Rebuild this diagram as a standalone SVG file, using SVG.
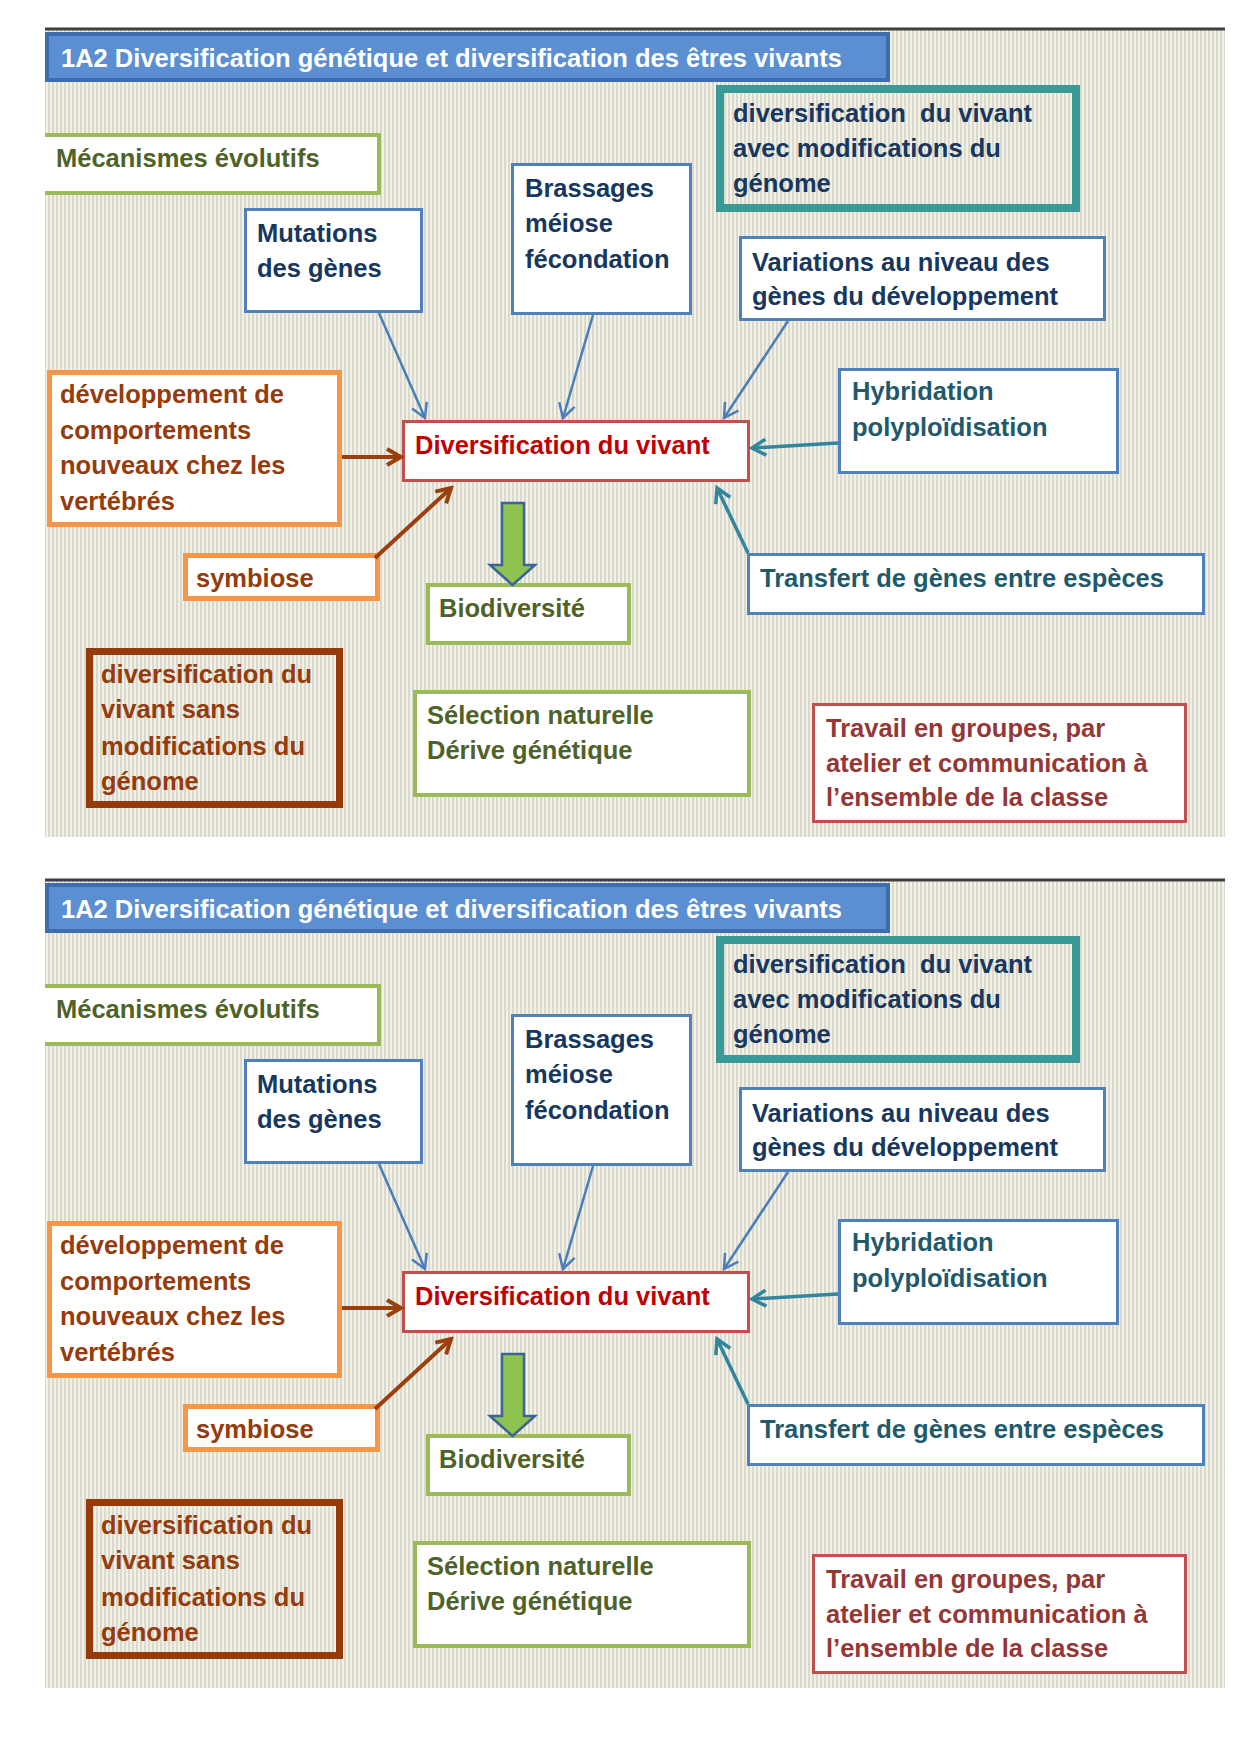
<svg xmlns="http://www.w3.org/2000/svg" width="1240" height="1754" viewBox="0 0 1240 1754">
<defs>
<pattern id="bg" width="4" height="4" patternUnits="userSpaceOnUse">
<rect width="4" height="4" fill="#f2f1e2"/>
<rect width="2" height="4" fill="#d9d9d2"/>
</pattern>
<marker id="ahBlue" markerUnits="userSpaceOnUse" markerWidth="22" markerHeight="22" viewBox="0 0 22 22" refX="19" refY="11" orient="auto">
<path d="M5,3 L19,11 L5,19" fill="none" stroke="#4a7ebb" stroke-width="2.5"/>
</marker>
<marker id="ahTeal" markerUnits="userSpaceOnUse" markerWidth="22" markerHeight="22" viewBox="0 0 22 22" refX="19" refY="11" orient="auto">
<path d="M5,3 L19,11 L5,19" fill="none" stroke="#31859c" stroke-width="3.5"/>
</marker>
<marker id="ahBrown" markerUnits="userSpaceOnUse" markerWidth="22" markerHeight="22" viewBox="0 0 22 22" refX="19" refY="11" orient="auto">
<path d="M5,3 L19,11 L5,19" fill="none" stroke="#9c3f0e" stroke-width="4"/>
</marker>
</defs>
<style>
text{font-family:"Liberation Sans",Arial,sans-serif;font-weight:bold;font-size:25.5px}
.title{fill:#ffffff;font-size:26px}
.green{fill:#4f6228}
.navy{fill:#17375e}
.tealt{fill:#1f5a6b}
.brownt{fill:#953b0c}
.redt{fill:#c00000}
.dred{fill:#953735}
.bxg{fill:#ffffff;stroke:#9bbb59;stroke-width:4}
.bxb{fill:#ffffff;stroke:#4f81bd;stroke-width:3}
.bxo{fill:#ffffff;stroke:#f79646;stroke-width:5}
.bxr{fill:#ffffff;stroke:#c0504d;stroke-width:3}
.cb{fill:none;stroke:#4a7ebb;stroke-width:2.5;marker-end:url(#ahBlue)}
.ct{fill:none;stroke:#31859c;stroke-width:3.5;marker-end:url(#ahTeal)}
.cbr{fill:none;stroke:#9c3f0e;stroke-width:4;marker-end:url(#ahBrown)}
</style>
<rect width="1240" height="1754" fill="#ffffff"/>

<g id="panel1">
<rect x="45" y="30" width="1180" height="807" fill="url(#bg)"/>
<line x1="45" y1="29" x2="1225" y2="29" stroke="#3f3f3f" stroke-width="3"/>
<g id="p1-title"><rect x="47" y="34" width="841" height="46" fill="#5b8fd1" stroke="#3d6cb0" stroke-width="4"/><text class="title" x="61" y="67" textLength="781" lengthAdjust="spacingAndGlyphs">1A2 Diversification génétique et diversification des êtres vivants</text></g>
<g id="p1-mecanismes"><rect x="45" y="135" width="334" height="58" fill="#ffffff"/><path d="M45,135 H379 V193 H45" fill="none" stroke="#9bbb59" stroke-width="4"/><text class="green" x="56" y="167">Mécanismes évolutifs</text></g>
<g id="p1-mutations"><rect class="bxb" x="245.5" y="209.5" width="176" height="102"/><text class="navy" x="257" y="242">Mutations</text><text class="navy" x="257" y="277">des gènes</text></g>
<g id="p1-brassages"><rect class="bxb" x="512.5" y="164.5" width="178" height="149"/><text class="navy" x="525" y="197">Brassages</text><text class="navy" x="525" y="232">méiose</text><text class="navy" x="525" y="268">fécondation</text></g>
<g id="p1-avecmodif"><rect x="720" y="89" width="356" height="119" fill="none" stroke="#3a9a98" stroke-width="8"/><text class="navy" x="733" y="122" style="white-space:pre">diversification  du vivant</text><text class="navy" x="733" y="157">avec modifications du</text><text class="navy" x="733" y="192">génome</text></g>
<g id="p1-variations"><rect class="bxb" x="740.5" y="237.5" width="364" height="82"/><text class="navy" x="752" y="271">Variations au niveau des</text><text class="navy" x="752" y="305">gènes du développement</text></g>
<g id="p1-comportements"><rect class="bxo" x="49.5" y="372.5" width="290" height="152"/><text class="brownt" x="60" y="403">développement de</text><text class="brownt" x="60" y="438.5">comportements</text><text class="brownt" x="60" y="474">nouveaux chez les</text><text class="brownt" x="60" y="509.5">vertébrés</text></g>
<g id="p1-diversification"><rect class="bxr" x="403.5" y="421.5" width="345" height="59"/><text class="redt" x="415" y="454">Diversification du vivant</text></g>
<g id="p1-hybridation"><rect class="bxb" x="839.5" y="369.5" width="278" height="103"/><text class="tealt" x="852" y="400">Hybridation</text><text class="tealt" x="852" y="436">polyploïdisation</text></g>
<g id="p1-symbiose"><rect class="bxo" x="185.5" y="555.5" width="192" height="43"/><text class="brownt" x="196" y="587">symbiose</text></g>
<g id="p1-transfert"><rect class="bxb" x="748.5" y="554.5" width="455" height="59"/><text class="tealt" x="760" y="587">Transfert de gènes entre espèces</text></g>
<g id="p1-biodiversite"><rect class="bxg" x="428" y="585" width="201" height="58"/><text class="green" x="439" y="617">Biodiversité</text></g>
<g id="p1-sansmodif"><rect x="89.5" y="651.5" width="250" height="153" fill="none" stroke="#953a0a" stroke-width="7"/><text class="brownt" x="101" y="683">diversification du</text><text class="brownt" x="101" y="718">vivant sans</text><text class="brownt" x="101" y="755">modifications du</text><text class="brownt" x="101" y="790">génome</text></g>
<g id="p1-selection"><rect class="bxg" x="415" y="692" width="334" height="103"/><text class="green" x="427" y="724">Sélection naturelle</text><text class="green" x="427" y="759">Dérive génétique</text></g>
<g id="p1-travail"><rect class="bxr" x="813.5" y="704.5" width="372" height="117"/><text class="dred" x="826" y="737">Travail en groupes, par</text><text class="dred" x="826" y="772">atelier et communication à</text><text class="dred" x="826" y="806">l’ensemble de la classe</text></g>
<g id="p1-connectors">
<line class="cb" x1="379" y1="313" x2="425" y2="418"/>
<line class="cb" x1="593" y1="315" x2="563" y2="418"/>
<line class="cb" x1="788" y1="321" x2="724" y2="418"/>
<line class="ct" x1="838" y1="443" x2="752" y2="448"/>
<line class="ct" x1="748" y1="553" x2="717" y2="488"/>
<line class="cbr" x1="342" y1="457" x2="401" y2="457"/>
<line class="cbr" x1="375" y1="558" x2="451" y2="488"/>
<path d="M502,503 H524 V565 H535 L512.5,585 L490,565 H502 Z" fill="#8fc350" stroke="#3c6496" stroke-width="2.5" stroke-linejoin="miter"/>
</g>
</g>

<g id="panel2" transform="translate(0,851)">
<rect x="45" y="30" width="1180" height="807" fill="url(#bg)"/>
<line x1="45" y1="29" x2="1225" y2="29" stroke="#3f3f3f" stroke-width="3"/>
<g id="p2-title"><rect x="47" y="34" width="841" height="46" fill="#5b8fd1" stroke="#3d6cb0" stroke-width="4"/><text class="title" x="61" y="67" textLength="781" lengthAdjust="spacingAndGlyphs">1A2 Diversification génétique et diversification des êtres vivants</text></g>
<g id="p2-mecanismes"><rect x="45" y="135" width="334" height="58" fill="#ffffff"/><path d="M45,135 H379 V193 H45" fill="none" stroke="#9bbb59" stroke-width="4"/><text class="green" x="56" y="167">Mécanismes évolutifs</text></g>
<g id="p2-mutations"><rect class="bxb" x="245.5" y="209.5" width="176" height="102"/><text class="navy" x="257" y="242">Mutations</text><text class="navy" x="257" y="277">des gènes</text></g>
<g id="p2-brassages"><rect class="bxb" x="512.5" y="164.5" width="178" height="149"/><text class="navy" x="525" y="197">Brassages</text><text class="navy" x="525" y="232">méiose</text><text class="navy" x="525" y="268">fécondation</text></g>
<g id="p2-avecmodif"><rect x="720" y="89" width="356" height="119" fill="none" stroke="#3a9a98" stroke-width="8"/><text class="navy" x="733" y="122" style="white-space:pre">diversification  du vivant</text><text class="navy" x="733" y="157">avec modifications du</text><text class="navy" x="733" y="192">génome</text></g>
<g id="p2-variations"><rect class="bxb" x="740.5" y="237.5" width="364" height="82"/><text class="navy" x="752" y="271">Variations au niveau des</text><text class="navy" x="752" y="305">gènes du développement</text></g>
<g id="p2-comportements"><rect class="bxo" x="49.5" y="372.5" width="290" height="152"/><text class="brownt" x="60" y="403">développement de</text><text class="brownt" x="60" y="438.5">comportements</text><text class="brownt" x="60" y="474">nouveaux chez les</text><text class="brownt" x="60" y="509.5">vertébrés</text></g>
<g id="p2-diversification"><rect class="bxr" x="403.5" y="421.5" width="345" height="59"/><text class="redt" x="415" y="454">Diversification du vivant</text></g>
<g id="p2-hybridation"><rect class="bxb" x="839.5" y="369.5" width="278" height="103"/><text class="tealt" x="852" y="400">Hybridation</text><text class="tealt" x="852" y="436">polyploïdisation</text></g>
<g id="p2-symbiose"><rect class="bxo" x="185.5" y="555.5" width="192" height="43"/><text class="brownt" x="196" y="587">symbiose</text></g>
<g id="p2-transfert"><rect class="bxb" x="748.5" y="554.5" width="455" height="59"/><text class="tealt" x="760" y="587">Transfert de gènes entre espèces</text></g>
<g id="p2-biodiversite"><rect class="bxg" x="428" y="585" width="201" height="58"/><text class="green" x="439" y="617">Biodiversité</text></g>
<g id="p2-sansmodif"><rect x="89.5" y="651.5" width="250" height="153" fill="none" stroke="#953a0a" stroke-width="7"/><text class="brownt" x="101" y="683">diversification du</text><text class="brownt" x="101" y="718">vivant sans</text><text class="brownt" x="101" y="755">modifications du</text><text class="brownt" x="101" y="790">génome</text></g>
<g id="p2-selection"><rect class="bxg" x="415" y="692" width="334" height="103"/><text class="green" x="427" y="724">Sélection naturelle</text><text class="green" x="427" y="759">Dérive génétique</text></g>
<g id="p2-travail"><rect class="bxr" x="813.5" y="704.5" width="372" height="117"/><text class="dred" x="826" y="737">Travail en groupes, par</text><text class="dred" x="826" y="772">atelier et communication à</text><text class="dred" x="826" y="806">l’ensemble de la classe</text></g>
<g id="p2-connectors">
<line class="cb" x1="379" y1="313" x2="425" y2="418"/>
<line class="cb" x1="593" y1="315" x2="563" y2="418"/>
<line class="cb" x1="788" y1="321" x2="724" y2="418"/>
<line class="ct" x1="838" y1="443" x2="752" y2="448"/>
<line class="ct" x1="748" y1="553" x2="717" y2="488"/>
<line class="cbr" x1="342" y1="457" x2="401" y2="457"/>
<line class="cbr" x1="375" y1="558" x2="451" y2="488"/>
<path d="M502,503 H524 V565 H535 L512.5,585 L490,565 H502 Z" fill="#8fc350" stroke="#3c6496" stroke-width="2.5" stroke-linejoin="miter"/>
</g>
</g>
</svg>
